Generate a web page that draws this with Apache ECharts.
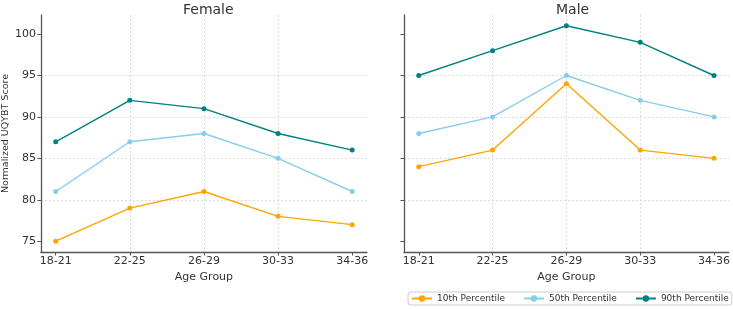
<!DOCTYPE html>
<html>
<head>
<meta charset="utf-8">
<script src="https://cdn.jsdelivr.net/npm/echarts@6/dist/echarts.min.js"></script>
<style>
  html, body { margin: 0; padding: 0; background: #fff; }
  #main { width: 733px; height: 309px; }
</style>
</head>
<body>
<div id="main"></div>
<script>
// age groups on the x axis
var ageGroups = ['18-21', '22-25', '26-29', '30-33', '34-36'];
var seriesNames = ['10th Percentile', '50th Percentile', '90th Percentile'];
var seriesColors = ['#FFA500', '#87CEEB', '#008080'];

// female scores
var female10 = [75, 79, 81, 78, 77];
var female50 = [81, 87, 88, 85, 81];
var female90 = [87, 92, 91, 88, 86];

// male scores
var male10 = [84, 86, 94, 86, 85];
var male50 = [88, 90, 95, 92, 90];
var male90 = [95, 98, 101, 99, 95];

var yTicks = [75, 80, 85, 90, 95, 100];
var xTicks = [0, 1, 2, 3, 4];

var font = 'DejaVu Sans';
var textColor = '#333';
var spineColor = '#555';

function pairs(values) {
	return values.map(function(v, i) { return [i, v]; });
}

function makeX(gridIndex) {
	return {
		type: 'value',
		gridIndex: gridIndex,
		min: -0.2,
		max: 4.2,
		name: 'Age Group',
		nameLocation: 'middle',
		nameGap: 15,
		nameTextStyle: { fontFamily: font, fontSize: 11, color: textColor },
		axisLine: { show: true, onZero: false, lineStyle: { color: spineColor, width: 1.3 } },
		axisTick: { show: true, length: 3.5, customValues: xTicks, lineStyle: { color: spineColor } },
		axisLabel: {
			customValues: xTicks,
			margin: 4,
			fontFamily: font, fontSize: 11, color: textColor,
			formatter: function(v) { return ageGroups[Math.round(v)] || ''; }
		},
		splitLine: { show: true, showMinLine: false, showMaxLine: false, lineStyle: { color: '#d4d4d4', type: [2, 2], width: 0.8 } }
	};
}

function makeY(gridIndex, withLabels) {
	var ax = {
		type: 'value',
		gridIndex: gridIndex,
		min: 73.7,
		max: 102.3,
		axisLine: { show: true, onZero: false, lineStyle: { color: spineColor, width: 1.3 } },
		axisTick: { show: true, length: 3.5, customValues: yTicks, lineStyle: { color: spineColor } },
		axisLabel: {
			show: withLabels,
			customValues: yTicks,
			margin: 5,
			fontFamily: font, fontSize: 11, color: textColor
		},
		splitLine: { show: true, showMinLine: false, showMaxLine: false, lineStyle: { color: '#d4d4d4', type: [2, 2], width: 0.8 } }
	};
	if (withLabels) {
		ax.name = 'Normalized UQYBT Score';
		ax.nameLocation = 'middle';
		ax.nameGap = 28;
		ax.nameTextStyle = { fontFamily: font, fontSize: 9.5, color: textColor };
	}
	return ax;
}

function makeSeries(name, data, color, idx) {
	return {
		name: name,
		type: 'line',
		xAxisIndex: idx,
		yAxisIndex: idx,
		data: pairs(data),
		symbol: 'circle',
		symbolSize: 5,
		itemStyle: { color: color },
		lineStyle: { color: color, width: 1.4 },
		emphasis: { disabled: true },
		animation: false
	};
}

var chart = echarts.init(document.getElementById('main'));
var options = {
	backgroundColor: '#fff',
	animation: false,
	title: [
		{ text: 'Female', left: 178, top: -2, textStyle: { fontFamily: font, fontSize: 14, fontWeight: 'normal', color: textColor } },
		{ text: 'Male', left: 551, top: -2, textStyle: { fontFamily: font, fontSize: 14, fontWeight: 'normal', color: textColor } }
	],
	grid: [
		{ left: 40, top: 15, width: 327, height: 237 },
		{ left: 404, top: 15, width: 327, height: 237 }
	],
	xAxis: [makeX(0), makeX(1)],
	yAxis: [makeY(0, true), makeY(1, false)],
	legend: {
		data: seriesNames,
		left: 408,
		top: 292,
		width: 330,
		itemWidth: 20,
		itemHeight: 8,
		itemGap: 18,
		padding: [2, 3],
		borderColor: '#ccc',
		borderWidth: 1,
		borderRadius: 3,
		textStyle: { fontFamily: font, fontSize: 9, color: textColor }
	},
	series: [
		makeSeries(seriesNames[0], female10, seriesColors[0], 0),
		makeSeries(seriesNames[1], female50, seriesColors[1], 0),
		makeSeries(seriesNames[2], female90, seriesColors[2], 0),
		makeSeries(seriesNames[0], male10, seriesColors[0], 1),
		makeSeries(seriesNames[1], male50, seriesColors[1], 1),
		makeSeries(seriesNames[2], male90, seriesColors[2], 1)
	]
};
chart.setOption(options);
</script>
</body>
</html>
